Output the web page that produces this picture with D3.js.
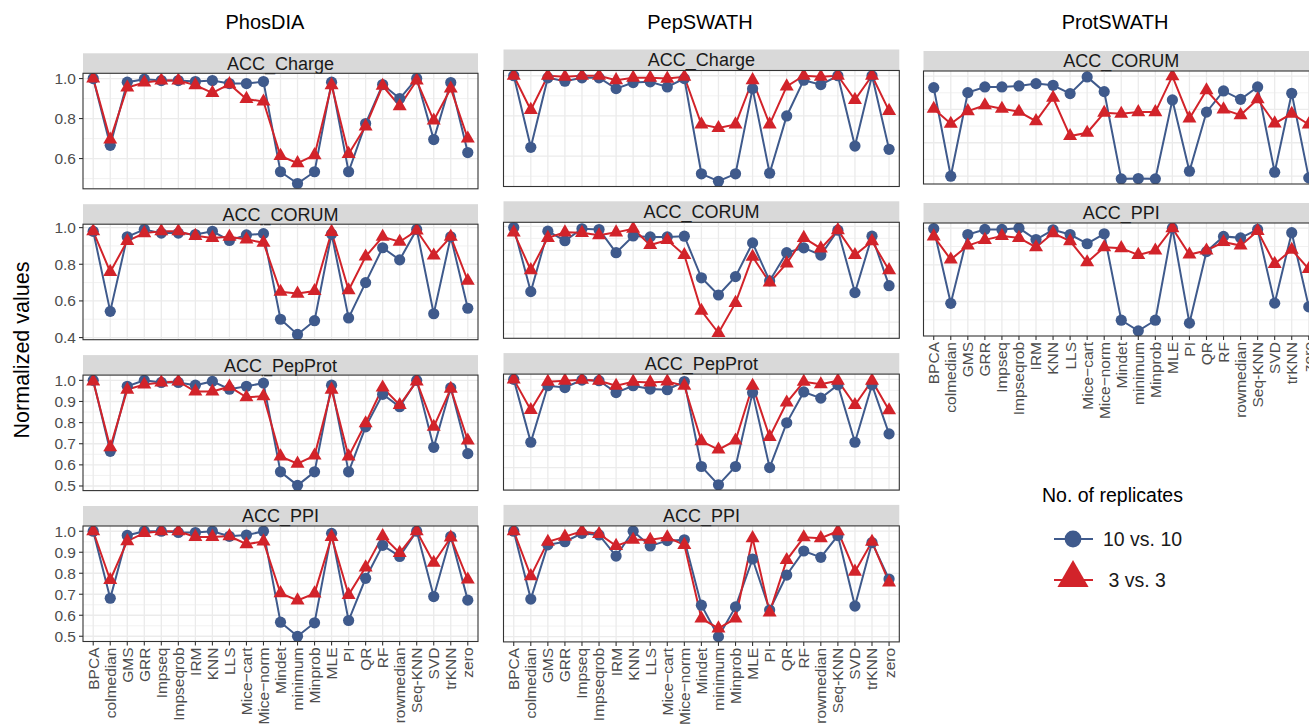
<!DOCTYPE html>
<html>
<head>
<meta charset="utf-8">
<script src="https://cdn.jsdelivr.net/npm/d3@7"></script>
<style>
	body { margin: 0; background: #fff; }
	text { font-family: "Liberation Sans", Arial, sans-serif; }
</style>
</head>
<body>
<div id="chart"></div>
<script>
// methods on the x axis
var methods = ["BPCA", "colmedian", "GMS", "GRR", "Impseq", "Impseqrob", "IRM", "KNN", "LLS",
	"Mice\u2212cart", "Mice\u2212norm", "Mindet", "minimum", "Minprob", "MLE", "PI", "QR", "RF",
	"rowmedian", "Seq-KNN", "SVD", "trKNN", "zero"];

var columnTitles = ["PhosDIA", "PepSWATH", "ProtSWATH"];
var seriesNames = ["10 vs. 10", " 3 vs. 3"];
var legendTitle = "No. of replicates";
var yTitle = "Normalized values";

// PhosDIA
var phosCharge10 = [1.0, 0.666, 0.982, 0.997, 0.99, 0.99, 0.985, 0.99, 0.975, 0.975, 0.985, 0.534, 0.475, 0.534, 0.982, 0.534, 0.775, 0.97, 0.90, 1.0, 0.695, 0.98, 0.63];
var phosCharge3 = [1.0, 0.695, 0.955, 0.98, 0.99, 0.99, 0.967, 0.928, 0.972, 0.898, 0.885, 0.613, 0.577, 0.617, 0.967, 0.623, 0.761, 0.964, 0.862, 0.99, 0.79, 0.95, 0.70];
var phosCorum10 = [0.98, 0.543, 0.95, 0.99, 0.97, 0.97, 0.962, 0.98, 0.93, 0.96, 0.967, 0.50, 0.417, 0.492, 0.965, 0.507, 0.70, 0.89, 0.824, 0.99, 0.53, 0.95, 0.56];
var phosCorum3 = [0.98, 0.758, 0.927, 0.97, 0.98, 0.98, 0.955, 0.944, 0.95, 0.935, 0.918, 0.65, 0.64, 0.654, 0.977, 0.658, 0.842, 0.95, 0.923, 0.984, 0.848, 0.95, 0.71];
var phosPepProt10 = [1.0, 0.664, 0.972, 1.0, 0.99, 0.99, 0.977, 0.995, 0.958, 0.972, 0.987, 0.567, 0.503, 0.567, 0.977, 0.567, 0.78, 0.934, 0.875, 1.0, 0.683, 0.965, 0.653];
var phosPepProt3 = [0.995, 0.683, 0.956, 0.98, 0.99, 0.995, 0.947, 0.947, 0.97, 0.92, 0.925, 0.64, 0.606, 0.644, 0.956, 0.64, 0.797, 0.966, 0.883, 0.995, 0.78, 0.96, 0.715];
var phosPpi10 = [1.0, 0.681, 0.98, 1.0, 1.0, 0.994, 0.994, 1.0, 0.976, 0.982, 1.0, 0.567, 0.5, 0.564, 0.99, 0.575, 0.776, 0.933, 0.88, 1.0, 0.689, 0.975, 0.672];
var phosPpi3 = [1.0, 0.768, 0.953, 0.992, 1.0, 1.0, 0.973, 0.973, 0.977, 0.938, 0.952, 0.705, 0.671, 0.704, 0.973, 0.697, 0.828, 0.977, 0.897, 1.0, 0.85, 0.97, 0.77];

// PepSWATH
var pepCharge10 = [1.0, 0.644, 0.99, 0.973, 0.99, 0.99, 0.936, 0.966, 0.97, 0.944, 0.986, 0.512, 0.475, 0.512, 0.936, 0.515, 0.80, 0.978, 0.956, 1.0, 0.65, 1.0, 0.634];
var pepCharge3 = [1.0, 0.83, 1.0, 0.995, 1.0, 1.0, 0.978, 0.99, 0.99, 0.986, 0.995, 0.758, 0.74, 0.758, 0.978, 0.758, 0.947, 1.0, 0.995, 1.0, 0.88, 1.0, 0.825];
var pepCorum10 = [0.995, 0.727, 0.98, 0.94, 0.99, 0.987, 0.89, 0.96, 0.956, 0.956, 0.959, 0.785, 0.713, 0.79, 0.931, 0.772, 0.89, 0.91, 0.88, 0.984, 0.723, 0.959, 0.752];
var pepCorum3 = [0.975, 0.817, 0.952, 0.975, 0.973, 0.963, 0.975, 0.99, 0.922, 0.943, 0.88, 0.647, 0.554, 0.68, 0.873, 0.765, 0.845, 0.952, 0.908, 0.984, 0.88, 0.938, 0.817];
var pepPepProt10 = [1.0, 0.715, 0.971, 0.963, 0.997, 0.994, 0.94, 0.971, 0.956, 0.953, 0.99, 0.605, 0.522, 0.605, 0.94, 0.6, 0.803, 0.943, 0.915, 0.975, 0.715, 0.975, 0.753];
var pepPepProt3 = [1.0, 0.861, 0.989, 0.994, 0.998, 0.994, 0.971, 0.989, 0.986, 0.99, 0.971, 0.72, 0.682, 0.723, 0.971, 0.739, 0.895, 0.989, 0.978, 0.994, 0.884, 0.994, 0.86];
var pepPpi10 = [1.0, 0.678, 0.935, 0.95, 0.99, 0.982, 0.882, 1.0, 0.93, 0.955, 0.959, 0.649, 0.5, 0.641, 0.868, 0.626, 0.792, 0.906, 0.876, 0.979, 0.645, 0.946, 0.773];
var pepPpi3 = [1.0, 0.787, 0.95, 0.974, 1.0, 0.987, 0.93, 0.959, 0.959, 0.971, 0.935, 0.586, 0.539, 0.586, 0.967, 0.615, 0.863, 0.971, 0.967, 1.0, 0.808, 0.95, 0.757];

// ProtSWATH
var protCorum10 = [0.931, 0.399, 0.901, 0.935, 0.935, 0.941, 0.955, 0.945, 0.895, 0.995, 0.907, 0.383, 0.385, 0.383, 0.857, 0.429, 0.784, 0.911, 0.861, 0.935, 0.423, 0.897, 0.389];
var protCorum3 = [0.804, 0.714, 0.79, 0.825, 0.804, 0.786, 0.73, 0.87, 0.64, 0.66, 0.78, 0.774, 0.784, 0.784, 1.0, 0.746, 0.915, 0.8, 0.766, 0.861, 0.716, 0.774, 0.71];
var protPpi10 = [0.997, 0.59, 0.965, 0.993, 0.993, 1.0, 0.938, 0.991, 0.965, 0.915, 0.969, 0.498, 0.44, 0.498, 1.0, 0.482, 0.872, 0.955, 0.947, 0.993, 0.591, 0.975, 0.571];
var protPpi3 = [0.955, 0.829, 0.905, 0.936, 0.957, 0.947, 0.896, 0.973, 0.929, 0.814, 0.896, 0.891, 0.854, 0.878, 1.0, 0.856, 0.878, 0.924, 0.905, 0.984, 0.805, 0.882, 0.777];

// y breaks for each panel
var ticks02 = [0.6, 0.8, 1.0];
var ticks02low = [0.4, 0.6, 0.8, 1.0];
var ticks01 = [0.5, 0.6, 0.7, 0.8, 0.9, 1.0];
var ticks01high = [0.6, 0.7, 0.8, 0.9, 1.0];

(function() {
	var width = 1309,
		height = 724;

	var blue = "#3F5A8C",
		red = "#D2232A";

	var svg = d3.select("#chart")
		.append("svg")
		.attr("width", width)
		.attr("height", height);

	var columns = [
		{ title: columnTitles[0], tx: 265, left: 83, right: 478, top: 53.3, pitch: 150.9, stripH: 20, panelH: 115.5, yLabels: true,
			panels: [
				{ label: "ACC_Charge", ticks: ticks02, s10: phosCharge10, s3: phosCharge3 },
				{ label: "ACC_CORUM", ticks: ticks02low, s10: phosCorum10, s3: phosCorum3 },
				{ label: "ACC_PepProt", ticks: ticks01, s10: phosPepProt10, s3: phosPepProt3 },
				{ label: "ACC_PPI", ticks: ticks01, s10: phosPpi10, s3: phosPpi3 }
			] },
		{ title: columnTitles[1], tx: 700, left: 503.5, right: 899.3, top: 49.5, pitch: 151.8, stripH: 21, panelH: 116, yLabels: false,
			panels: [
				{ label: "ACC_Charge", ticks: ticks02, s10: pepCharge10, s3: pepCharge3 },
				{ label: "ACC_CORUM", ticks: ticks01high, s10: pepCorum10, s3: pepCorum3 },
				{ label: "ACC_PepProt", ticks: ticks01, s10: pepPepProt10, s3: pepPepProt3 },
				{ label: "ACC_PPI", ticks: ticks01, s10: pepPpi10, s3: pepPpi3 }
			] },
		{ title: columnTitles[2], tx: 1115, left: 923.5, right: 1319, top: 51, pitch: 152, stripH: 20, panelH: 113, yLabels: false,
			panels: [
				{ label: "ACC_CORUM", ticks: ticks02low, s10: protCorum10, s3: protCorum3 },
				{ label: "ACC_PPI", ticks: ticks02, s10: protPpi10, s3: protPpi3 }
			] }
	];

	var clipId = 0;

	columns.forEach(function(col) {
		svg.append("text")
			.attr("x", col.tx)
			.attr("y", 29)
			.attr("text-anchor", "middle")
			.style("font-size", "20px")
			.attr("fill", "#000")
			.text(col.title);

		var x = d3.scalePoint()
			.domain(methods)
			.range([col.left, col.right])
			.padding(0.6);

		col.panels.forEach(function(p, i) {
			var stripTop = col.top + i * col.pitch;
			var top = stripTop + col.stripH;
			var bottom = top + col.panelH;
			var isBottom = i === col.panels.length - 1;

			var all = p.s10.concat(p.s3);
			var ext = d3.extent(all);
			var pad = (ext[1] - ext[0]) * 0.05;
			var y = d3.scaleLinear()
				.domain([ext[0] - pad, ext[1] + pad])
				.range([bottom, top]);

			var g = svg.append("g");

			// strip
			g.append("rect")
				.attr("x", col.left)
				.attr("y", stripTop)
				.attr("width", col.right - col.left)
				.attr("height", col.stripH)
				.attr("fill", "#D9D9D9");
			g.append("text")
				.attr("x", (col.left + col.right) / 2)
				.attr("y", stripTop + col.stripH / 2)
				.attr("dy", "0.36em")
				.attr("text-anchor", "middle")
				.style("font-size", "18px")
				.attr("fill", "#1A1A1A")
				.text(p.label);

			// grid
			var step = p.ticks[1] - p.ticks[0];
			var minors = [p.ticks[0] - step / 2];
			p.ticks.forEach(function(t) { minors.push(t + step / 2); });
			minors = minors.filter(function(v) { return v >= y.domain()[0] && v <= y.domain()[1]; });

			g.selectAll(".minor")
				.data(minors)
				.enter().append("line")
				.attr("x1", col.left).attr("x2", col.right)
				.attr("y1", function(d) { return y(d); })
				.attr("y2", function(d) { return y(d); })
				.attr("stroke", "#EBEBEB")
				.attr("stroke-width", 0.7);

			g.selectAll(".major")
				.data(p.ticks)
				.enter().append("line")
				.attr("x1", col.left).attr("x2", col.right)
				.attr("y1", function(d) { return y(d); })
				.attr("y2", function(d) { return y(d); })
				.attr("stroke", "#EBEBEB")
				.attr("stroke-width", 1.3);

			g.selectAll(".vgrid")
				.data(methods)
				.enter().append("line")
				.attr("x1", function(d) { return x(d); })
				.attr("x2", function(d) { return x(d); })
				.attr("y1", top).attr("y2", bottom)
				.attr("stroke", "#EBEBEB")
				.attr("stroke-width", 1.3);

			// clip to panel
			var cid = "clip" + (clipId++);
			svg.append("clipPath").attr("id", cid)
				.append("rect")
				.attr("x", col.left).attr("y", top)
				.attr("width", col.right - col.left)
				.attr("height", col.panelH);

			var plot = g.append("g").attr("clip-path", "url(#" + cid + ")");

			var line = d3.line()
				.x(function(d, k) { return x(methods[k]); })
				.y(function(d) { return y(d); });

			plot.append("path").datum(p.s10)
				.attr("d", line).attr("fill", "none")
				.attr("stroke", blue).attr("stroke-width", 2);
			plot.append("path").datum(p.s3)
				.attr("d", line).attr("fill", "none")
				.attr("stroke", red).attr("stroke-width", 2);

			plot.selectAll(".c10")
				.data(p.s10)
				.enter().append("circle")
				.attr("cx", function(d, k) { return x(methods[k]); })
				.attr("cy", function(d) { return y(d); })
				.attr("r", 5.6)
				.attr("fill", blue);

			plot.selectAll(".t3")
				.data(p.s3)
				.enter().append("path")
				.attr("d", d3.symbol(d3.symbolTriangle, 85))
				.attr("transform", function(d, k) {
					return "translate(" + x(methods[k]) + "," + y(d) + ")";
				})
				.attr("fill", red);

			// border
			g.append("rect")
				.attr("x", col.left).attr("y", top)
				.attr("width", col.right - col.left)
				.attr("height", col.panelH)
				.attr("fill", "none")
				.attr("stroke", "#333")
				.attr("stroke-width", 1.1);

			if (col.yLabels) {
				g.selectAll(".ytick")
					.data(p.ticks)
					.enter().append("line")
					.attr("x1", col.left - 4).attr("x2", col.left)
					.attr("y1", function(d) { return y(d); })
					.attr("y2", function(d) { return y(d); })
					.attr("stroke", "#333").attr("stroke-width", 1.1);
				g.selectAll(".ylab")
					.data(p.ticks)
					.enter().append("text")
					.attr("x", col.left - 7)
					.attr("y", function(d) { return y(d); })
					.attr("dy", "0.35em")
					.attr("text-anchor", "end")
					.style("font-size", "15.5px")
					.attr("fill", "#4D4D4D")
					.text(d3.format(".1f"));
			}

			if (isBottom) {
				g.selectAll(".xtick")
					.data(methods)
					.enter().append("line")
					.attr("x1", function(d) { return x(d); })
					.attr("x2", function(d) { return x(d); })
					.attr("y1", bottom).attr("y2", bottom + 4)
					.attr("stroke", "#333").attr("stroke-width", 1.1);
				g.selectAll(".xlab")
					.data(methods)
					.enter().append("text")
					.attr("transform", function(d) {
						return "translate(" + x(d) + "," + (bottom + 6) + ") rotate(-90)";
					})
					.attr("dy", "0.35em")
					.attr("text-anchor", "end")
					.style("font-size", "15.5px")
					.attr("fill", "#4D4D4D")
					.text(function(d) { return d; });
			}
		});
	});

	// y axis title
	svg.append("text")
		.attr("transform", "translate(29,350) rotate(-90)")
		.attr("text-anchor", "middle")
		.style("font-size", "21.5px")
		.attr("fill", "#000")
		.text(yTitle);

	// legend
	var legend = svg.append("g");
	legend.append("text")
		.attr("x", 1042)
		.attr("y", 502)
		.style("font-size", "19.5px")
		.attr("fill", "#000")
		.text(legendTitle);

	var keyY = [539, 580];
	legend.selectAll(".kline")
		.data(seriesNames)
		.enter().append("line")
		.attr("x1", 1054).attr("x2", 1093)
		.attr("y1", function(d, i) { return keyY[i]; })
		.attr("y2", function(d, i) { return keyY[i]; })
		.attr("stroke", function(d, i) { return i ? red : blue; })
		.attr("stroke-width", 2);

	legend.append("circle")
		.attr("cx", 1073).attr("cy", keyY[0])
		.attr("r", 8.4)
		.attr("fill", blue);
	legend.append("path")
		.attr("d", d3.symbol(d3.symbolTriangle, 420))
		.attr("transform", "translate(1073," + (keyY[1] - 2) + ")")
		.attr("fill", red);

	legend.selectAll(".klab")
		.data(seriesNames)
		.enter().append("text")
		.attr("x", 1103)
		.attr("y", function(d, i) { return keyY[i]; })
		.attr("dy", "0.36em")
		.style("font-size", "19.5px")
		.style("white-space", "pre")
		.attr("fill", "#1A1A1A")
		.text(function(d) { return d; });
})();
</script>
</body>
</html>
